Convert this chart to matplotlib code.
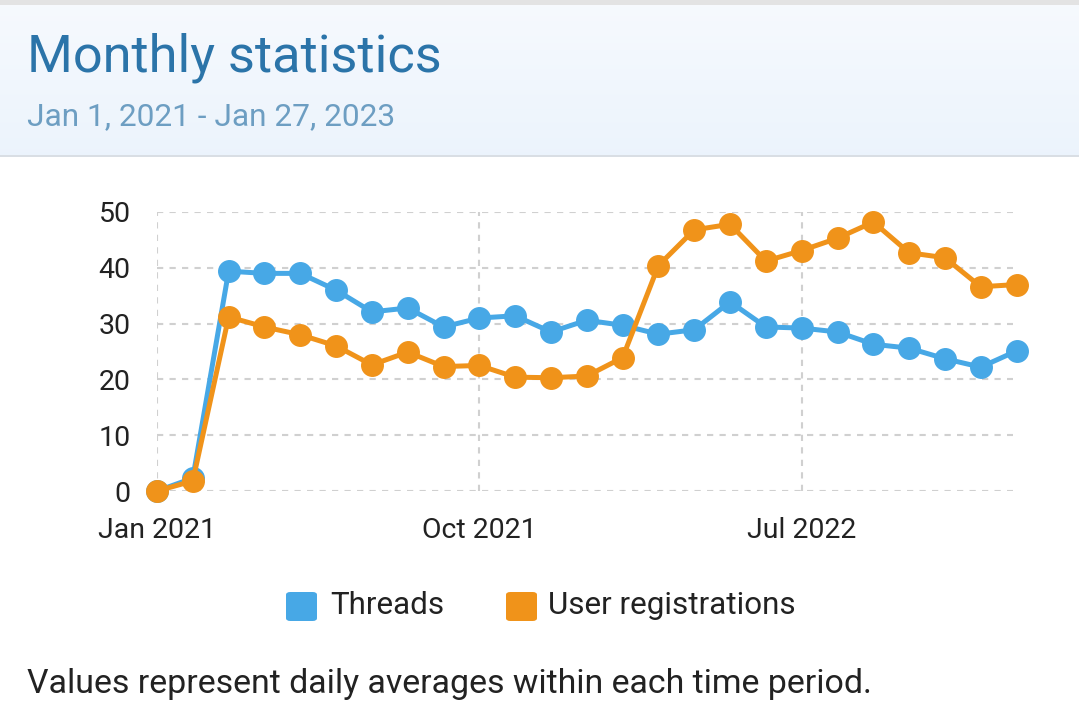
import numpy as np
import matplotlib
matplotlib.use("Agg")
import matplotlib.pyplot as plt
from matplotlib.patches import FancyBboxPatch, Rectangle

plt.rcParams['font.family'] = ['Roboto', 'DejaVu Sans']

# monthly points Jan 2021 .. Jan 2023
months = ["Jan 2021", "Feb 2021", "Mar 2021", "Apr 2021", "May 2021", "Jun 2021",
          "Jul 2021", "Aug 2021", "Sep 2021", "Oct 2021", "Nov 2021", "Dec 2021",
          "Jan 2022", "Feb 2022", "Mar 2022", "Apr 2022", "May 2022", "Jun 2022",
          "Jul 2022", "Aug 2022", "Sep 2022", "Oct 2022", "Nov 2022", "Dec 2022",
          "Jan 2023"]
threads = [0, 2.3, 39.4, 39.0, 39.0, 36.0, 32.1, 32.8, 29.4, 31.0, 31.4, 28.5,
           30.6, 29.7, 28.1, 28.9, 33.9, 29.4, 29.2, 28.5, 26.3, 25.6, 23.7, 22.2, 25.1]
registrations = [0, 1.8, 31.2, 29.4, 28.0, 26.0, 22.6, 24.9, 22.3, 22.5, 20.4, 20.3,
                 20.6, 23.9, 40.4, 46.8, 47.8, 41.2, 43.1, 45.3, 48.2, 42.7, 41.8, 36.6, 37.0]
tick_labels = ["Jan 2021", "Oct 2021", "Jul 2022"]
y_ticks = [0, 10, 20, 30, 40, 50]

blue = "#47a8e6"
orange = "#f0931a"

W, H = 1079, 715
fig = plt.figure(figsize=(W / 100, H / 100), dpi=100)
fig.patch.set_facecolor("white")

# header band with soft gradient
grad = np.linspace(0, 1, 100).reshape(-1, 1)
hax = fig.add_axes([0, 1 - 155 / H, 1, 150 / H])
hax.imshow(np.dstack([np.interp(grad, [0, 1], [0.965, 0.925]),
                      np.interp(grad, [0, 1], [0.978, 0.956]),
                      np.interp(grad, [0, 1], [0.995, 0.99])]),
           aspect="auto", extent=[0, 1, 0, 1])
hax.set_axis_off()
fig.add_artist(Rectangle((0, 1 - 5 / H), 1, 5 / H, transform=fig.transFigure,
                         color="#e3e3e3", lw=0))
fig.add_artist(Rectangle((0, 1 - 157 / H), 1, 2 / H, transform=fig.transFigure,
                         color="#d9dee4", lw=0))

fig.text(27 / W, 1 - 58 / H, "Monthly statistics", fontsize=37.7, color="#2b74a9", va="center")
fig.text(27 / W, 1 - 117 / H, "Jan 1, 2021 - Jan 27, 2023", fontsize=22.8,
         color="#6d9ec2", va="center")

# chart
ax = fig.add_axes([157 / W, 1 - 491 / H, (1013 - 157) / W, (491 - 212) / H])
x = np.arange(len(months))
ax.plot(x, threads, color=blue, lw=3.6, marker="o", ms=15.5, clip_on=False, zorder=3)
ax.plot(x, registrations, color=orange, lw=3.6, marker="o", ms=15.5, clip_on=False, zorder=4)

ax.set_xlim(0, 23.9)
ax.set_ylim(0, 50)
ax.set_yticks(y_ticks)
ax.set_xticks([months.index(t) for t in tick_labels])
ax.set_xticklabels(tick_labels)
ax.tick_params(length=0, labelsize=20.5, labelcolor="#222222")
ax.tick_params(axis="y", pad=19)
ax.tick_params(axis="x", pad=19)
ax.grid(True, color="#d0d0d0", lw=1.5, ls=(0, (3, 3)), zorder=0)
for s in ax.spines.values():
    s.set_visible(False)

# legend
fig.add_artist(FancyBboxPatch((286 / W, 1 - 621 / H), 31 / W, 29 / H,
                              boxstyle="round,pad=0,rounding_size=0.004",
                              transform=fig.transFigure, color=blue, lw=0))
fig.text(330 / W, 1 - 606 / H, "Threads", fontsize=22.6, color="#222222", va="center")
fig.add_artist(FancyBboxPatch((506 / W, 1 - 621 / H), 31 / W, 29 / H,
                              boxstyle="round,pad=0,rounding_size=0.004",
                              transform=fig.transFigure, color=orange, lw=0))
fig.text(548 / W, 1 - 606 / H, "User registrations", fontsize=22.6, color="#222222", va="center")

fig.text(27 / W, 1 - 684 / H, "Values represent daily averages within each time period.",
         fontsize=24.4, color="#222222", va="center")

fig.savefig("out.png", dpi=100)
